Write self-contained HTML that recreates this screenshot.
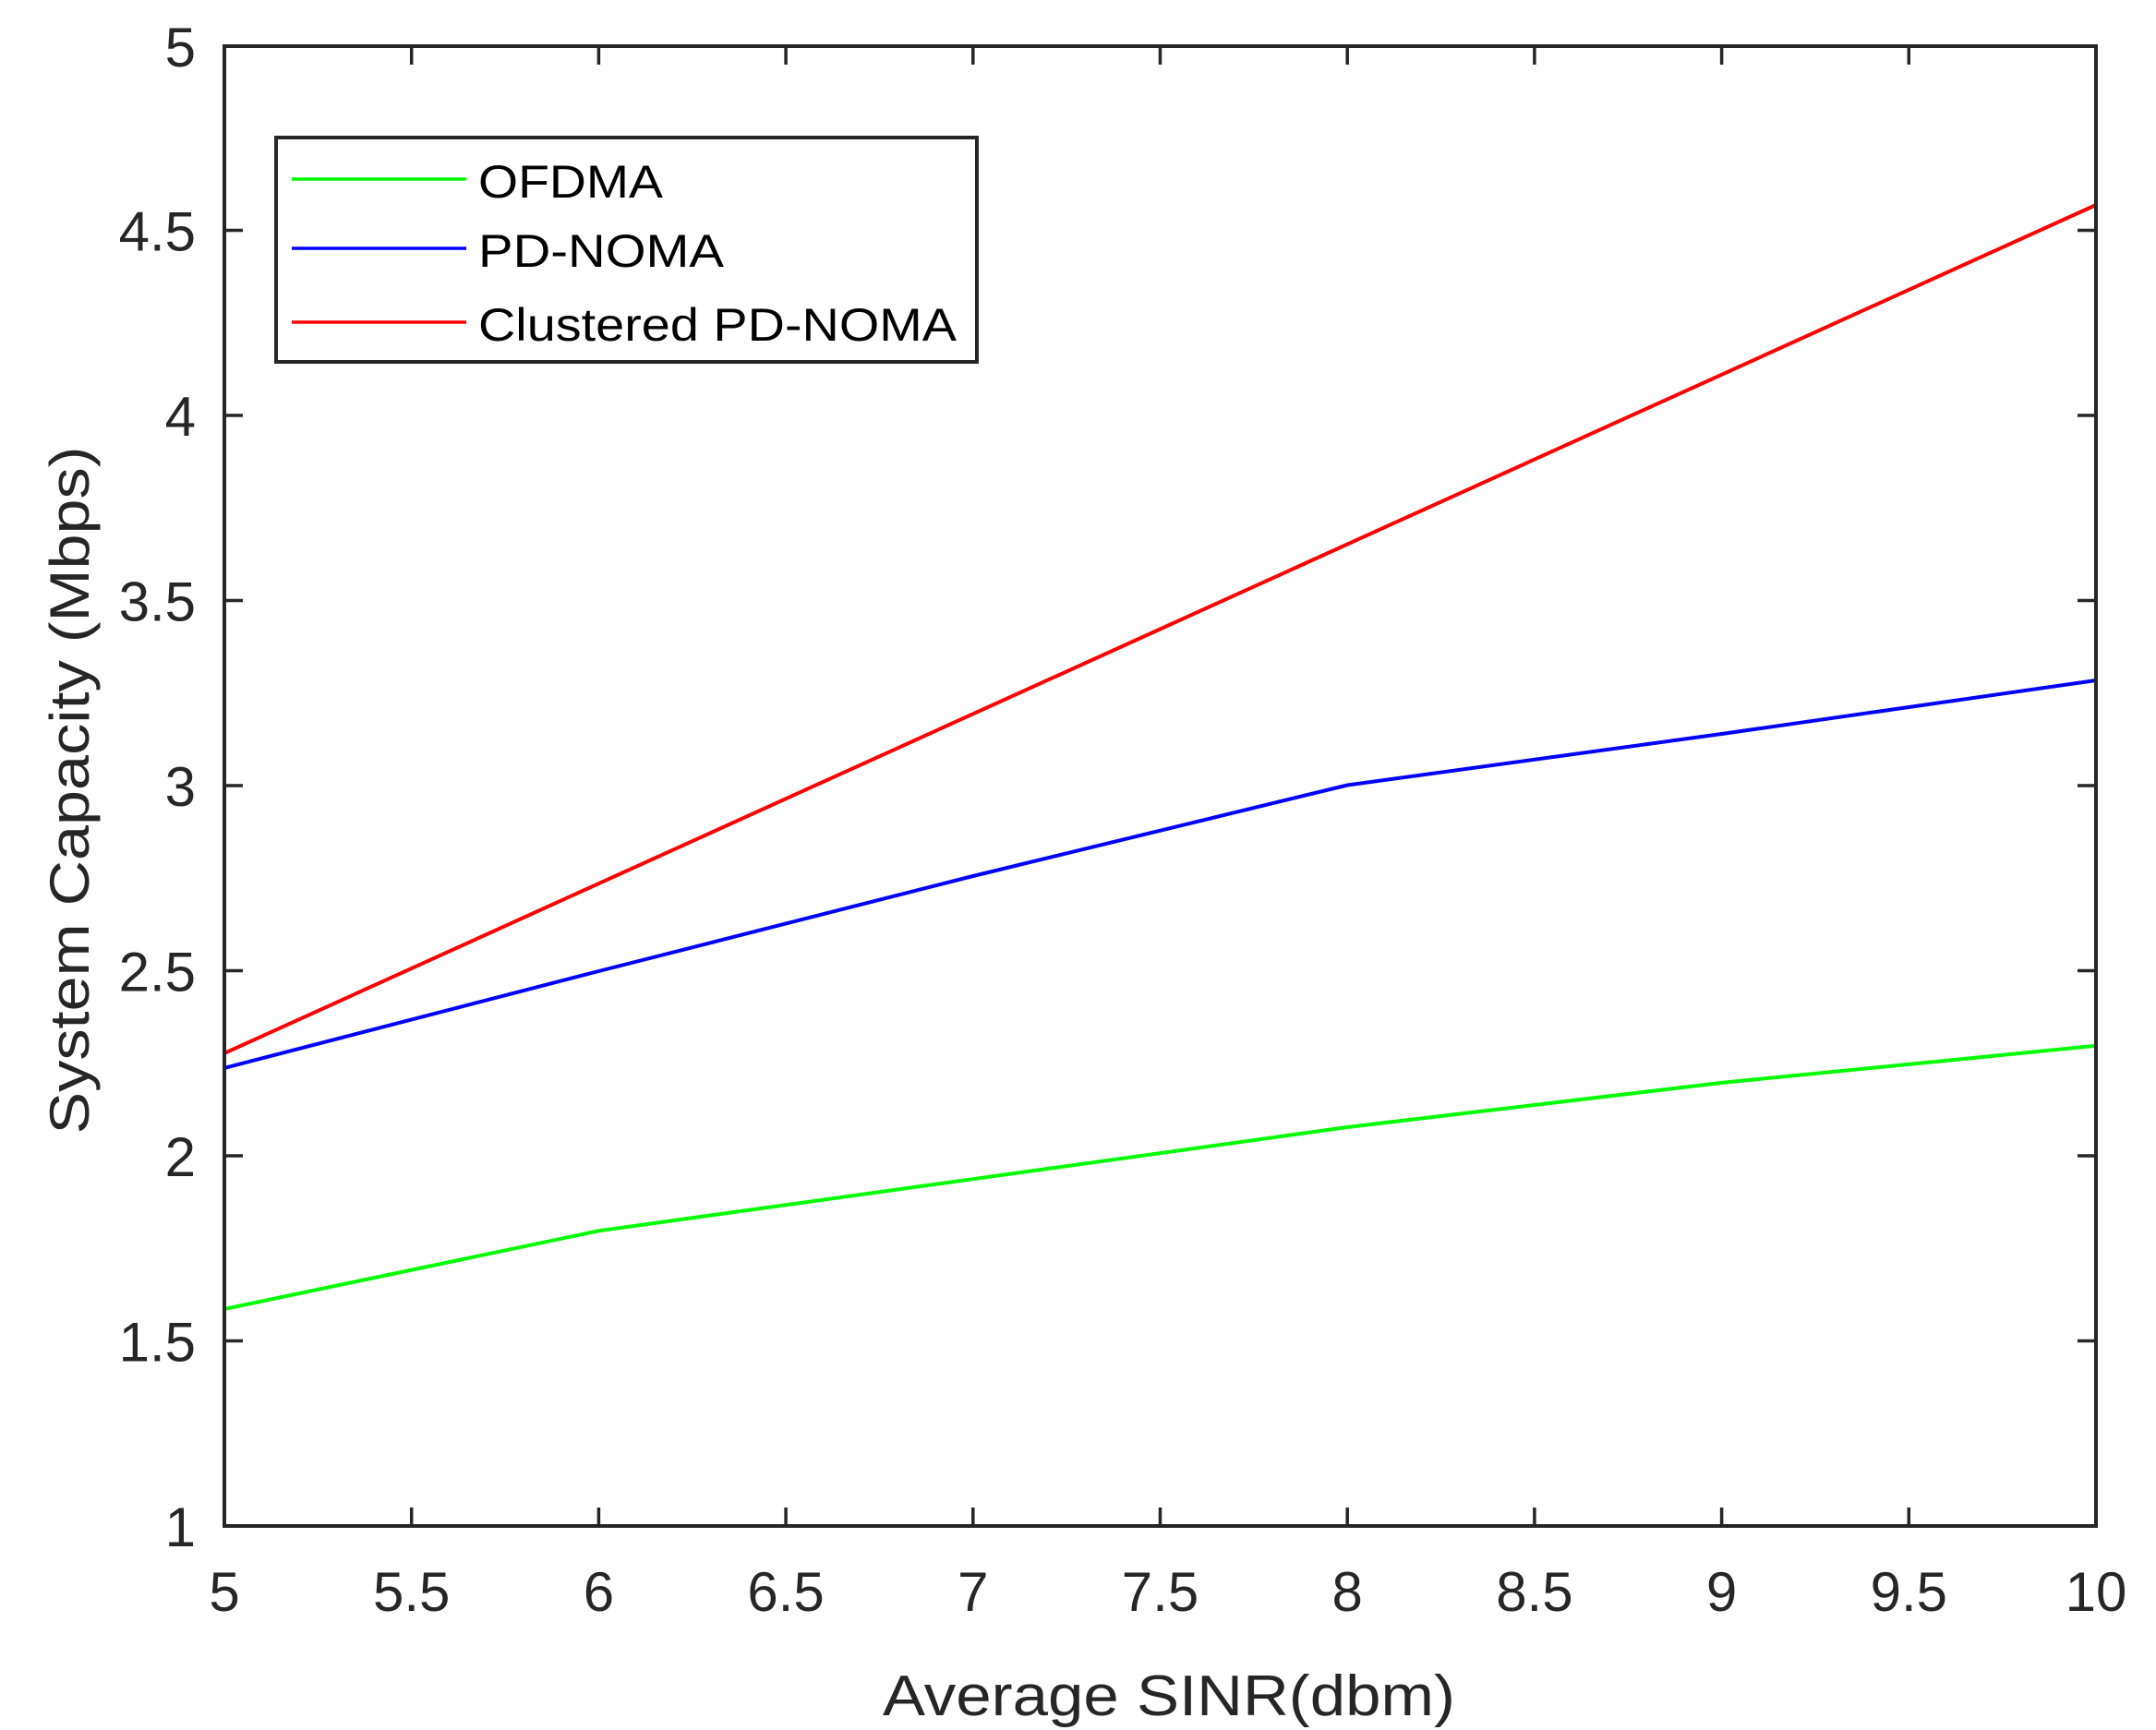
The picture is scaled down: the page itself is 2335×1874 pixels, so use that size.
<!DOCTYPE html>
<html><head><meta charset="utf-8"><style>body{margin:0;background:#fff}svg{display:block}</style></head>
<body>
<svg width="2335" height="1874" viewBox="0 0 2335 1874" xmlns="http://www.w3.org/2000/svg" font-family="Liberation Sans, Arial, sans-serif">
<rect width="2335" height="1874" fill="#fff"/>
<g stroke="#262626" stroke-width="3.5">
<path d="M445.7 1653v-20M648.4 1653v-20M851.1 1653v-20M1053.8 1653v-20M1256.5 1653v-20M1459.2 1653v-20M1661.9 1653v-20M1864.6 1653v-20M2067.3 1653v-20
M445.7 50v20M648.4 50v20M851.1 50v20M1053.8 50v20M1256.5 50v20M1459.2 50v20M1661.9 50v20M1864.6 50v20M2067.3 50v20
M243 1452.5h20M243 1252h20M243 1051.5h20M243 851h20M243 650.5h20M243 450h20M243 249.5h20
M2270 1452.5h-20M2270 1252h-20M2270 1051.5h-20M2270 851h-20M2270 650.5h-20M2270 450h-20M2270 249.5h-20"/>
</g>
<g fill="none" stroke-width="4" stroke-linejoin="round">
<polyline stroke="#00ff00" points="243,1418 648.4,1333.3 1053.8,1277.2 1459.2,1221.0 1864.6,1172.9 2270,1132.8" />
<polyline stroke="#0000ff" points="243,1156.9 648.4,1052 1053.8,949 1459.2,850.5 1864.6,795 2270,737"/>
<polyline stroke="#ff0000" points="243,1140.9 2270,222"/>
</g>
<rect x="243" y="50" width="2027" height="1603" fill="none" stroke="#262626" stroke-width="4"/>
<rect x="299" y="149" width="759" height="243" fill="#fff" stroke="#262626" stroke-width="4"/>
<path d="M316 194h189" stroke="#00ff00" stroke-width="3.5"/>
<path d="M316 269h189" stroke="#0000ff" stroke-width="3.5"/>
<path d="M316 349h189" stroke="#ff0000" stroke-width="3.5"/>
<g font-size="50" fill="#000">
<text x="518" y="214" textLength="200" lengthAdjust="spacingAndGlyphs">OFDMA</text>
<text x="518" y="289" textLength="266" lengthAdjust="spacingAndGlyphs">PD-NOMA</text>
<text x="518" y="369" textLength="518" lengthAdjust="spacingAndGlyphs">Clustered PD-NOMA</text>
</g>
<g font-size="60" fill="#262626" text-anchor="middle">
<text x="243" y="1745">5</text><text x="445.7" y="1745">5.5</text><text x="648.4" y="1745">6</text><text x="851.1" y="1745">6.5</text><text x="1053.8" y="1745">7</text><text x="1256.5" y="1745">7.5</text><text x="1459.2" y="1745">8</text><text x="1661.9" y="1745">8.5</text><text x="1864.6" y="1745">9</text><text x="2067.3" y="1745">9.5</text><text x="2270" y="1745">10</text>
</g>
<g font-size="60" fill="#262626" text-anchor="end">
<text x="212" y="1675">1</text><text x="212" y="1474.5">1.5</text><text x="212" y="1274">2</text><text x="212" y="1073.5">2.5</text><text x="212" y="873">3</text><text x="212" y="672.5">3.5</text><text x="212" y="472">4</text><text x="212" y="271.5">4.5</text><text x="212" y="72">5</text>
</g>
<text x="1266" y="1858" font-size="62" fill="#262626" text-anchor="middle" textLength="620" lengthAdjust="spacingAndGlyphs">Average SINR(dbm)</text>
<text transform="translate(96,856) rotate(-90)" font-size="60" fill="#262626" text-anchor="middle" textLength="745" lengthAdjust="spacingAndGlyphs">System Capacity (Mbps)</text>
</svg>
</body></html>
